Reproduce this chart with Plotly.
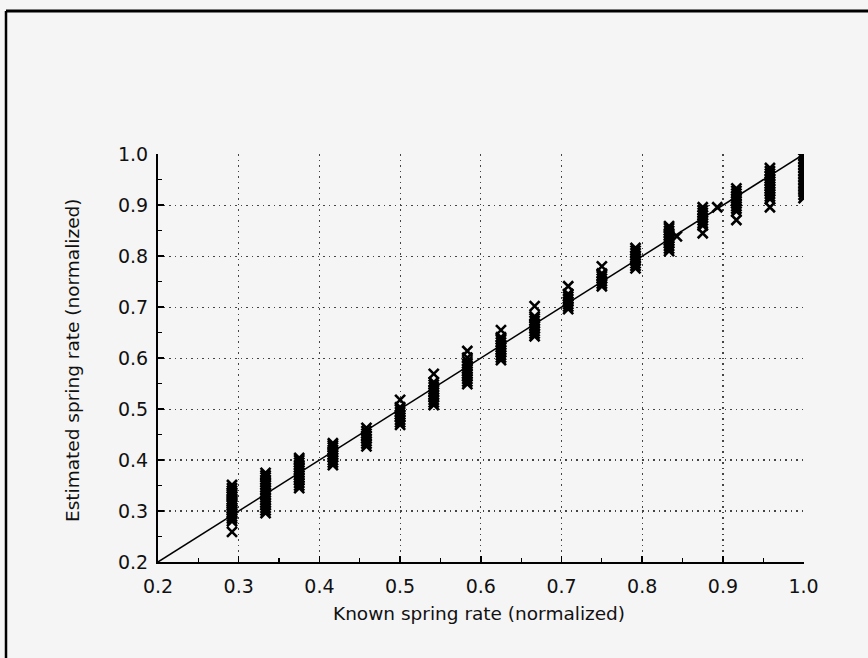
import plotly.graph_objects as go

# ---- data ----
known_rates = [0.2917, 0.3333, 0.375, 0.4167, 0.4583, 0.5, 0.5417, 0.5833, 0.625,
               0.6667, 0.7083, 0.75, 0.7917, 0.8333, 0.875, 0.9167, 0.9583, 1.0]

est_0292 = [0.259, 0.280, 0.285, 0.289, 0.294, 0.298, 0.302, 0.306, 0.311, 0.315,
            0.319, 0.323, 0.328, 0.332, 0.336, 0.340, 0.345, 0.351]
est_0333 = [0.296, 0.301, 0.306, 0.311, 0.316, 0.321, 0.326, 0.331, 0.336, 0.341,
            0.346, 0.351, 0.356, 0.361, 0.366, 0.370, 0.375]
est_0375 = [0.345, 0.350, 0.355, 0.360, 0.365, 0.370, 0.375, 0.380, 0.385, 0.390,
            0.395, 0.400, 0.404]
est_0417 = [0.390, 0.395, 0.400, 0.405, 0.410, 0.415, 0.420, 0.425, 0.429, 0.433]
est_0458 = [0.427, 0.432, 0.437, 0.442, 0.447, 0.452, 0.457, 0.463]
est_0500 = [0.469, 0.474, 0.479, 0.484, 0.489, 0.494, 0.499, 0.504, 0.518]
est_0542 = [0.508, 0.513, 0.518, 0.523, 0.528, 0.533, 0.538, 0.543, 0.548, 0.553, 0.569]
est_0583 = [0.549, 0.554, 0.559, 0.564, 0.569, 0.574, 0.579, 0.584, 0.589, 0.594,
            0.601, 0.614]
est_0625 = [0.596, 0.601, 0.606, 0.611, 0.616, 0.621, 0.626, 0.631, 0.636, 0.641, 0.655]
est_0667 = [0.643, 0.648, 0.653, 0.658, 0.663, 0.668, 0.673, 0.678, 0.682, 0.702]
est_0708 = [0.696, 0.701, 0.706, 0.711, 0.716, 0.721, 0.726, 0.741]
est_0750 = [0.741, 0.746, 0.751, 0.756, 0.761, 0.766, 0.780]
est_0792 = [0.776, 0.781, 0.786, 0.791, 0.796, 0.801, 0.806, 0.811, 0.816]
est_0833 = [0.810, 0.815, 0.820, 0.825, 0.830, 0.835, 0.840, 0.845, 0.850, 0.855, 0.859]
est_0875 = [0.845, 0.860, 0.865, 0.870, 0.875, 0.880, 0.885, 0.890, 0.896]
est_0917 = [0.871, 0.888, 0.893, 0.898, 0.903, 0.908, 0.913, 0.918, 0.923, 0.928, 0.933]
est_0958 = [0.896, 0.912, 0.917, 0.922, 0.927, 0.932, 0.937, 0.942, 0.947, 0.952,
            0.957, 0.962, 0.967, 0.973]
est_1000 = [0.914, 0.920, 0.926, 0.932, 0.938, 0.944, 0.950, 0.956, 0.962, 0.968,
            0.974, 0.980, 0.986, 0.992, 0.998]

estimates = [est_0292, est_0333, est_0375, est_0417, est_0458, est_0500, est_0542,
             est_0583, est_0625, est_0667, est_0708, est_0750, est_0792, est_0833,
             est_0875, est_0917, est_0958, est_1000]

extra_x = [0.843, 0.893]
extra_y = [0.839, 0.896]

ideal_x = [0.2, 1.0]
ideal_y = [0.2, 1.0]

tick_vals = [0.2, 0.3, 0.4, 0.5, 0.6, 0.7, 0.8, 0.9, 1.0]
tick_text = ["0.2", "0.3", "0.4", "0.5", "0.6", "0.7", "0.8", "0.9", "1.0"]

x_title = "Known spring rate (normalized)"
y_title = "Estimated spring rate (normalized)"

# ---- build ----
xs, ys = [], []
for k, vals in zip(known_rates, estimates):
    xs += [k] * len(vals)
    ys += vals
xs += extra_x
ys += extra_y

W, H = 868, 658
ML, MR, MT, MB = 158, 64, 154, 96
pw, ph = W - ML - MR, H - MT - MB

fig = go.Figure()
fig.add_trace(go.Scatter(x=ideal_x, y=ideal_y, mode="lines",
                         line=dict(color="black", width=1.5),
                         showlegend=False, hoverinfo="skip"))
fig.add_trace(go.Scatter(x=xs, y=ys, mode="markers",
                         marker=dict(symbol="x-thin", size=10, color="black",
                                     line=dict(color="black", width=2.6)),
                         showlegend=False))

font = "DejaVu Sans"
axis_common = dict(
    range=[0.2, 1.0005], tickvals=tick_vals, ticktext=tick_text,
    showgrid=True, gridcolor="#444444", griddash="1.5px,4px", gridwidth=1.2,
    showline=True, linecolor="black", linewidth=2,
    ticks="inside", ticklen=6, tickcolor="black", tickwidth=1.5,
    minor=dict(ticks="inside", ticklen=4, dtick=0.05, tick0=0.2,
               tickcolor="black", tickwidth=1.2, showgrid=False),
    zeroline=False, tickfont=dict(family=font, size=19, color="#111111"),
    fixedrange=True,
)
fig.update_xaxes(**axis_common, ticklabelstandoff=6)
fig.update_yaxes(**axis_common, ticklabelstandoff=4)

fig.add_annotation(text=x_title, xref="paper", yref="paper",
                   x=(479 - ML) / pw, y=-(613 - (H - MB)) / ph, xanchor="center",
                   yanchor="middle", showarrow=False,
                   font=dict(family=font, size=18.5, color="#111111"))
fig.add_annotation(text=y_title, xref="paper", yref="paper",
                   x=-(ML - 72) / pw, y=(H - MB - 360) / ph, xanchor="center",
                   yanchor="middle", textangle=-90, showarrow=False,
                   font=dict(family=font, size=18.5, color="#111111"))

# scanned page frame (top and left edges)
left_px, top_px = 6, 11
lx = (left_px - ML) / pw
ty = (H - MB - top_px) / ph
fig.add_shape(type="line", xref="paper", yref="paper", x0=lx, x1=(W - ML) / pw,
              y0=ty, y1=ty, line=dict(color="black", width=3))
fig.add_shape(type="line", xref="paper", yref="paper", x0=lx, x1=lx,
              y0=ty, y1=-(MB) / ph, line=dict(color="black", width=2.5))

fig.update_layout(
    width=W, height=H,
    margin=dict(l=ML, r=MR, t=MT, b=MB),
    paper_bgcolor="#f5f5f5", plot_bgcolor="#f5f5f5",
    showlegend=False,
)

fig.write_html(
    "out.html",
    config={"displayModeBar": False, "staticPlot": True},
    post_script="document.body.style.margin='0';document.body.style.background='#f5f5f5';"
                "document.body.style.overflow='hidden';",
)
